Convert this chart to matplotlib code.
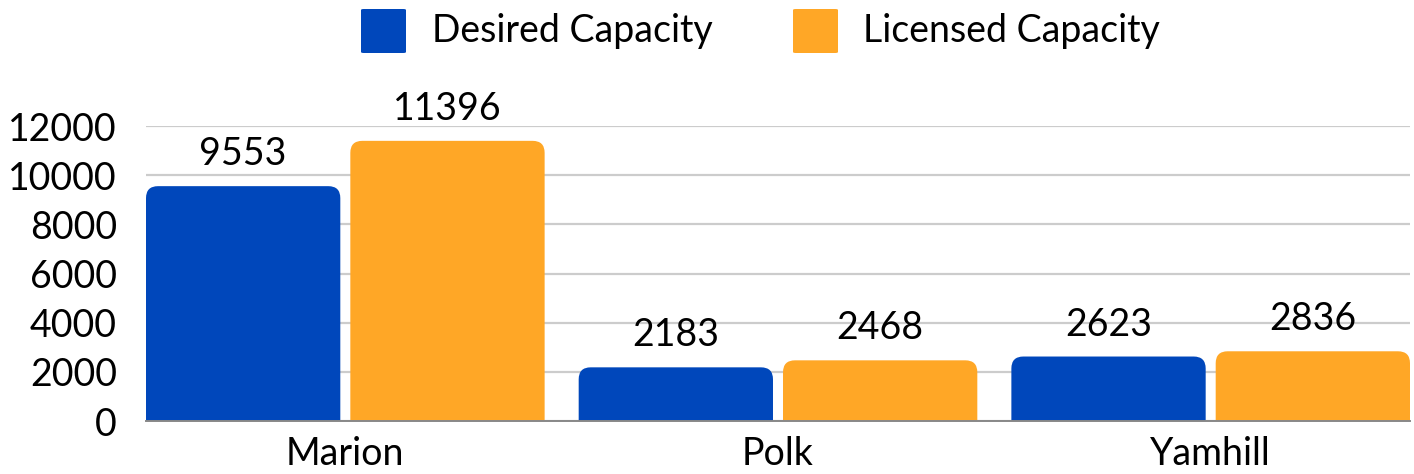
import matplotlib
matplotlib.use("Agg")
import matplotlib.pyplot as plt
from matplotlib.path import Path
from matplotlib.patches import PathPatch, FancyBboxPatch
import numpy as np

categories = ["Marion", "Polk", "Yamhill"]
series_names = ["Desired Capacity", "Licensed Capacity"]
desired = [9553, 2183, 2623]
licensed = [11396, 2468, 2836]
y_ticks = [0, 2000, 4000, 6000, 8000, 10000, 12000]

colors = ["#0047BB", "#FFA726"]

plt.rcParams['font.family'] = ['Lato', 'DejaVu Sans']
FS = 27

W, H = 1414, 474
fig = plt.figure(figsize=(W / 100, H / 100), dpi=100)
ax_l, ax_r, ax_b, ax_t = 146, 1410, 421, 126
ax = fig.add_axes([ax_l / W, (H - ax_b) / H, (ax_r - ax_l) / W, (ax_b - ax_t) / H])

group_px = 432.0
bar_w = 194 / group_px
gap = 10 / group_px
offs = [-(bar_w / 2 + gap / 2), (bar_w / 2 + gap / 2)]
xmin = offs[0] - bar_w / 2
xmax = len(categories) - 1 + offs[1] + bar_w / 2
ax.set_xlim(xmin, xmax)
ax.set_ylim(0, 12000)

px_per_x = (ax_r - ax_l) / (xmax - xmin)
px_per_y = (ax_b - ax_t) / 12000
r_px = 12
rx = r_px / px_per_x
ry = r_px / px_per_y


def rounded_bar(x0, x1, h, color):
    ryy = min(ry, h)
    verts = [(x0, 0), (x0, h - ryy), (x0, h), (x0 + rx, h),
             (x1 - rx, h), (x1, h), (x1, h - ryy), (x1, 0), (x0, 0)]
    codes = [Path.MOVETO, Path.LINETO, Path.CURVE3, Path.CURVE3,
             Path.LINETO, Path.CURVE3, Path.CURVE3, Path.LINETO, Path.CLOSEPOLY]
    ax.add_patch(PathPatch(Path(verts, codes), facecolor=color, edgecolor='none', zorder=3))


x = np.arange(len(categories))
for s, (vals, col) in enumerate(zip([desired, licensed], colors)):
    for i, v in enumerate(vals):
        cx = x[i] + offs[s]
        rounded_bar(cx - bar_w / 2, cx + bar_w / 2, v, col)
        ax.annotate(str(v), xy=(cx, v), xytext=(0, 10), textcoords='offset points',
                    ha='center', va='bottom', fontsize=FS, color='#000000')

ax.set_yticks(y_ticks)
ax.set_yticklabels([str(t) for t in y_ticks])
ax.set_xticks(x)
ax.set_xticklabels(categories)
ax.tick_params(axis='y', length=0, pad=21, labelsize=FS, labelcolor='#000000')
ax.tick_params(axis='x', length=0, pad=11, labelsize=FS, labelcolor='#000000')
ax.grid(axis='y', color='#CCCCCC', linewidth=1.6, zorder=0)
ax.set_axisbelow(True)
for sp in ['top', 'right', 'left']:
    ax.spines[sp].set_visible(False)
ax.spines['bottom'].set_color('#888888')
ax.spines['bottom'].set_linewidth(1.4)
ax.spines['bottom'].set_zorder(4)

# legend
leg_items = [(361, 432, series_names[0], colors[0]), (793, 863, series_names[1], colors[1])]
for px, tx, label, col in leg_items:
    fig.patches.append(FancyBboxPatch((px / W, (H - 53) / H), 45 / W, 44 / H,
                                      boxstyle="round,pad=0,rounding_size=0.002",
                                      transform=fig.transFigure, facecolor=col,
                                      edgecolor='none'))
    fig.text(tx / W, (H - 31) / H, label, ha='left', va='center', fontsize=FS, color='#000000')

fig.savefig("out.png", dpi=100)
